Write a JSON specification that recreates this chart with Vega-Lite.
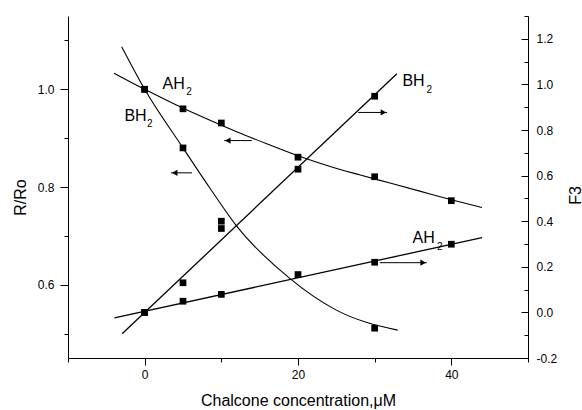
{
  "$schema": "https://vega.github.io/schema/vega-lite/v6.json",
  "width": 460,
  "height": 342,
  "autosize": {"type": "none"},
  "padding": {"left": 68, "top": 16, "right": 54, "bottom": 52},
  "background": "white",
  "config": {
    "view": {"stroke": null},
    "font": "Liberation Sans",
    "axis": {
      "domainColor": "#000", "tickColor": "#000", "labelColor": "#000", "titleColor": "#000",
      "labelFont": "Liberation Sans", "titleFont": "Liberation Sans", "grid": false,
      "labelFontSize": 12, "titleFontSize": 16, "titleFontWeight": "normal",
      "domainWidth": 1, "tickWidth": 1, "labelFlush": false
    }
  },
  "datasets": {
    "lp": [
      {"s": "AH2", "x": 0, "v": 1.0}, {"s": "AH2", "x": 5, "v": 0.960}, {"s": "AH2", "x": 10, "v": 0.931},
      {"s": "AH2", "x": 20, "v": 0.861}, {"s": "AH2", "x": 30, "v": 0.821}, {"s": "AH2", "x": 40, "v": 0.772},
      {"s": "BH2", "x": 0, "v": 1.0}, {"s": "BH2", "x": 5, "v": 0.880}, {"s": "BH2", "x": 10, "v": 0.730},
      {"s": "BH2", "x": 30, "v": 0.511}
    ],
    "rp": [
      {"s": "AH2", "x": 0, "v": 0.0}, {"s": "AH2", "x": 5, "v": 0.049}, {"s": "AH2", "x": 10, "v": 0.079},
      {"s": "AH2", "x": 20, "v": 0.166}, {"s": "AH2", "x": 30, "v": 0.22}, {"s": "AH2", "x": 40, "v": 0.299},
      {"s": "BH2", "x": 0, "v": 0.0}, {"s": "BH2", "x": 5, "v": 0.13}, {"s": "BH2", "x": 10, "v": 0.368},
      {"s": "BH2", "x": 20, "v": 0.628}, {"s": "BH2", "x": 30, "v": 0.948}
    ],
    "lf": [
      {"s": "AH2", "x": -4, "v": 1.033}, {"s": "AH2", "x": 0, "v": 1.0}, {"s": "AH2", "x": 4, "v": 0.969},
      {"s": "AH2", "x": 8, "v": 0.940}, {"s": "AH2", "x": 12, "v": 0.913}, {"s": "AH2", "x": 16, "v": 0.888},
      {"s": "AH2", "x": 20, "v": 0.864}, {"s": "AH2", "x": 24, "v": 0.843}, {"s": "AH2", "x": 28, "v": 0.825},
      {"s": "AH2", "x": 32, "v": 0.808}, {"s": "AH2", "x": 36, "v": 0.791}, {"s": "AH2", "x": 40, "v": 0.774},
      {"s": "AH2", "x": 44, "v": 0.758},
      {"s": "BH2", "x": -3, "v": 1.087}, {"s": "BH2", "x": 0, "v": 1.0}, {"s": "BH2", "x": 5, "v": 0.88},
      {"s": "BH2", "x": 8.5, "v": 0.798}, {"s": "BH2", "x": 12, "v": 0.720}, {"s": "BH2", "x": 19, "v": 0.612},
      {"s": "BH2", "x": 25, "v": 0.548}, {"s": "BH2", "x": 33, "v": 0.507}
    ],
    "rf": [
      {"s": "AH2", "x": -3.94, "v": -0.024}, {"s": "AH2", "x": 44, "v": 0.328},
      {"s": "BH2", "x": -2.94, "v": -0.094}, {"s": "BH2", "x": 32.9, "v": 1.047}
    ],
    "la": [
      {"x": 10.37, "x2": 13.97, "v": 0.895}, {"x": 3.44, "x2": 6.17, "v": 0.829}
    ],
    "lh": [
      {"x": 10.85, "v": 0.895}, {"x": 3.92, "v": 0.829}
    ],
    "ra": [
      {"x": 27.85, "x2": 31.62, "v": 0.877}, {"x": 30.67, "x2": 36.8, "v": 0.218}
    ],
    "rh": [
      {"x": 31.14, "v": 0.877}, {"x": 36.32, "v": 0.218}
    ],
    "tb": [
      {"x": 2.34, "v": 1.0004, "t": "AH"}, {"x": -2.64, "v": 0.936, "t": "BH"},
      {"x": 33.62, "v": 1.0072, "t": "BH"}, {"x": 34.93, "v": 0.6845, "t": "AH"}
    ],
    "ts": [
      {"x": 5.43, "v": 0.9887, "t": "2"}, {"x": 0.31, "v": 0.922, "t": "2"},
      {"x": 36.75, "v": 0.9934, "t": "2"}, {"x": 38.13, "v": 0.672, "t": "2"}
    ]
  },
  "layer": [
    {
      "resolve": {"axis": {"x": "independent", "y": "independent"}},
      "layer": [
        {
          "data": {"name": "lp"},
          "mark": {"type": "square", "size": 45, "color": "#000", "opacity": 1},
          "encoding": {
            "x": {"field": "x", "type": "quantitative", "scale": {"domain": [-10, 50], "nice": false, "zero": false},
              "axis": {
                "orient": "bottom",
                "values": [0, 20, 40],
                "format": "d",
                "tickSize": 7,
                "labelPadding": 4,
                "title": "Chalcone concentration,μM",
                "titleBaseline": "alphabetic",
                "titleY": 47
              }},
            "y": {"field": "v", "type": "quantitative", "scale": {"domain": [0.45, 1.15], "nice": false, "zero": false},
              "axis": {
                "orient": "left",
                "values": [0.6, 0.8, 1.0],
                "format": ".1f",
                "tickSize": 8,
                "labelPadding": 6,
                "title": "R/Ro",
                "titleAngle": -90,
                "titleX": -43,
                "titleY": 181,
                "titleAlign": "center",
                "titleBaseline": "alphabetic"
              }}
          }
        },
        {
          "data": {"name": "lf"},
          "mark": {"type": "line", "color": "#000", "strokeWidth": 1.1, "interpolate": "monotone"},
          "encoding": {
            "x": {"field": "x", "type": "quantitative", "scale": {"domain": [-10, 50], "nice": false, "zero": false},
              "axis": {"orient": "bottom", "values": [-10, 10, 30, 50], "labels": false, "domain": false, "tickSize": 4, "title": null}},
            "y": {"field": "v", "type": "quantitative", "scale": {"domain": [0.45, 1.15], "nice": false, "zero": false},
              "axis": {"orient": "left", "values": [0.5, 0.7, 0.9, 1.1], "labels": false, "domain": false, "tickSize": 4, "title": null}},
            "detail": {"field": "s"}
          }
        },
        {
          "data": {"name": "la"},
          "mark": {"type": "rule", "color": "#000", "strokeWidth": 1},
          "encoding": {
            "x": {"field": "x", "type": "quantitative", "scale": {"domain": [-10, 50], "nice": false, "zero": false}, "axis": null},
            "x2": {"field": "x2"},
            "y": {"field": "v", "type": "quantitative", "scale": {"domain": [0.45, 1.15], "nice": false, "zero": false}, "axis": null}
          }
        },
        {
          "data": {"name": "lh"},
          "mark": {"type": "point", "shape": "triangle-left", "filled": true, "size": 40, "color": "#000", "opacity": 1},
          "encoding": {
            "x": {"field": "x", "type": "quantitative", "scale": {"domain": [-10, 50], "nice": false, "zero": false}, "axis": null},
            "y": {"field": "v", "type": "quantitative", "scale": {"domain": [0.45, 1.15], "nice": false, "zero": false}, "axis": null}
          }
        },
        {
          "data": {"name": "tb"},
          "mark": {"type": "text", "font": "Liberation Sans", "fontSize": 16, "align": "left", "baseline": "alphabetic", "color": "#000"},
          "encoding": {
            "x": {"field": "x", "type": "quantitative", "scale": {"domain": [-10, 50], "nice": false, "zero": false}, "axis": null},
            "y": {"field": "v", "type": "quantitative", "scale": {"domain": [0.45, 1.15], "nice": false, "zero": false}, "axis": null},
            "text": {"field": "t"}
          }
        },
        {
          "data": {"name": "ts"},
          "mark": {"type": "text", "font": "Liberation Sans", "fontSize": 10, "align": "left", "baseline": "alphabetic", "color": "#000"},
          "encoding": {
            "x": {"field": "x", "type": "quantitative", "scale": {"domain": [-10, 50], "nice": false, "zero": false}, "axis": null},
            "y": {"field": "v", "type": "quantitative", "scale": {"domain": [0.45, 1.15], "nice": false, "zero": false}, "axis": null},
            "text": {"field": "t"}
          }
        }
      ]
    },
    {
      "resolve": {"axis": {"y": "independent"}},
      "layer": [
        {
          "data": {"name": "rp"},
          "mark": {"type": "square", "size": 45, "color": "#000", "opacity": 1},
          "encoding": {
            "x": {"field": "x", "type": "quantitative", "scale": {"domain": [-10, 50], "nice": false, "zero": false}, "axis": null},
            "y": {"field": "v", "type": "quantitative", "scale": {"domain": [-0.2, 1.3], "nice": false, "zero": false},
              "axis": {
                "orient": "right",
                "values": [-0.2, 0, 0.2, 0.4, 0.6, 0.8, 1.0, 1.2],
                "labelExpr": "(datum.value < -0.01 ? '-' : '') + format(abs(datum.value), '.1f')",
                "tickSize": -7,
                "labelPadding": 15,
                "title": "F3",
                "titleAngle": -90,
                "titleX": 52,
                "titleY": 179,
                "titleAlign": "center",
                "titleBaseline": "alphabetic"
              }}
          }
        },
        {
          "data": {"name": "rf"},
          "mark": {"type": "line", "color": "#000", "strokeWidth": 1.3},
          "encoding": {
            "x": {"field": "x", "type": "quantitative", "scale": {"domain": [-10, 50], "nice": false, "zero": false}, "axis": null},
            "y": {"field": "v", "type": "quantitative", "scale": {"domain": [-0.2, 1.3], "nice": false, "zero": false},
              "axis": {"orient": "right", "values": [-0.1, 0.1, 0.3, 0.5, 0.7, 0.9, 1.1, 1.3], "labels": false, "domain": false, "tickSize": -4, "title": null}},
            "detail": {"field": "s"}
          }
        },
        {
          "data": {"name": "ra"},
          "mark": {"type": "rule", "color": "#000", "strokeWidth": 1},
          "encoding": {
            "x": {"field": "x", "type": "quantitative", "scale": {"domain": [-10, 50], "nice": false, "zero": false}, "axis": null},
            "x2": {"field": "x2"},
            "y": {"field": "v", "type": "quantitative", "scale": {"domain": [-0.2, 1.3], "nice": false, "zero": false}, "axis": null}
          }
        },
        {
          "data": {"name": "rh"},
          "mark": {"type": "point", "shape": "triangle-right", "filled": true, "size": 40, "color": "#000", "opacity": 1},
          "encoding": {
            "x": {"field": "x", "type": "quantitative", "scale": {"domain": [-10, 50], "nice": false, "zero": false}, "axis": null},
            "y": {"field": "v", "type": "quantitative", "scale": {"domain": [-0.2, 1.3], "nice": false, "zero": false}, "axis": null}
          }
        }
      ]
    }
  ],
  "resolve": {"scale": {"y": "independent"}}
}
